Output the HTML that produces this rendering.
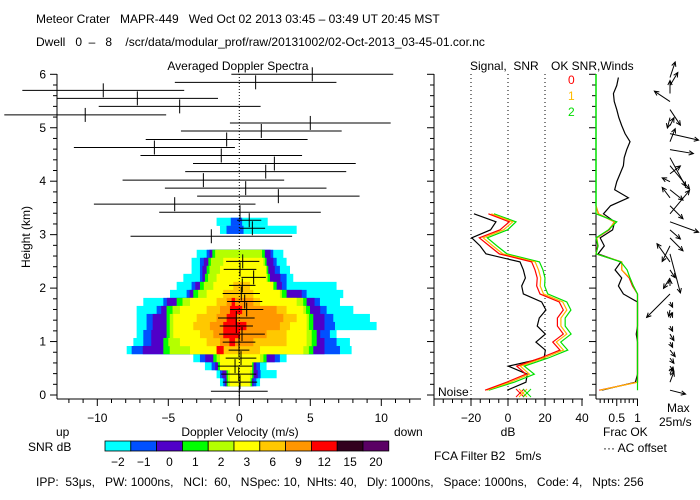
<!DOCTYPE html>
<html><head><meta charset="utf-8"><style>
html,body{margin:0;padding:0;background:#fff}
svg{display:block}
text{font-family:"Liberation Sans",sans-serif;font-size:12px;fill:#000;white-space:pre}
</style></head><body>
<svg id="chart" width="700" height="500" viewBox="0 0 700 500" xmlns="http://www.w3.org/2000/svg" xml:space="preserve">
<rect width="700" height="500" fill="#fff"/>
<text x="36" y="23">Meteor Crater   MAPR-449   Wed Oct 02 2013 03:45 – 03:49 UT 20:45 MST</text>
<text x="36" y="46">Dwell   0  –   8    /scr/data/modular_prof/raw/20131002/02-Oct-2013_03-45-01.cor.nc</text>
<text x="238" y="70" text-anchor="middle">Averaged Doppler Spectra</text>
<text x="470" y="70">Signal,  SNR</text>
<text x="551" y="70">OK SNR,Winds</text>
<g id="spec"></g>
<g id="sig"></g>
<g id="ok"></g>
<g id="wind"></g>
<g id="cbar"></g>
<text x="240" y="436" text-anchor="middle">Doppler Velocity (m/s)</text>
<text x="56" y="436">up</text>
<text x="394" y="436">down</text>
<text x="28" y="451">SNR dB</text>
<text x="508" y="436" text-anchor="middle">dB</text>
<text x="603" y="436">Frac OK</text>
<text x="603" y="452">··· AC offset</text>
<text x="667" y="412">Max</text>
<text x="659" y="426">25m/s</text>
<text x="434" y="460">FCA Filter B2   5m/s</text>
<text x="36" y="486">IPP:  53μs,   PW: 1000ns,   NCI:  60,   NSpec: 10,  NHts: 40,   Dly: 1000ns,   Space: 1000ns,   Code: 4,   Npts: 256</text>
<text x="438" y="396">Noise</text>
<text x="568" y="84" style="fill:#f00">0</text>
<text x="568" y="100" style="fill:#fb0">1</text>
<text x="568" y="116" style="fill:#0d0">2</text>
</svg>
<script>
// ---------- data ----------
const barHeights=[6.00,5.85,5.70,5.55,5.40,5.24,5.09,4.94,4.78,4.63,4.48,4.33,4.18,4.02,3.87,3.72,3.57,3.42,3.27,3.12,2.97,2.50,2.35,2.20,2.05,1.90,1.75,1.60,1.44,1.29,1.14,0.99,0.84,0.69,0.54,0.39,0.24,0.07];
const barVel=[5.14,1.15,-9.58,-7.18,-4.20,-10.85,5.0,1.55,-0.89,-5.98,-1.27,2.47,1.86,-2.53,0.45,2.75,-4.55,0.05,0.70,0.92,-1.97,0.24,0.05,1.01,0.21,0.14,0.38,0.52,-0.21,-0.21,0.19,-0.02,-0.02,0.12,-0.30,-0.04,0.05,0.0];
const barHalfWidth=[5.70,5.69,5.70,5.68,5.70,5.70,5.66,5.66,5.70,5.67,5.69,5.73,5.67,5.69,5.69,5.72,5.69,5.69,0.85,0.90,5.69,1.17,1.15,0.86,0.93,1.31,1.24,1.17,1.29,1.17,1.61,1.15,0.73,1.08,1.22,1.24,1.21,2.0];
const xTicks=[-10,-5,0,5,10];
const yTicks=[0,1,2,3,4,5,6];
const snrLevels=[-2,-1,0,1,2,3,6,9,12,15,20];
const snrColors=['#00ffff','#0050ff','#5000c8','#00ff00','#b4ff00','#ffff00','#ffc800','#ff9600','#ff0000','#32001e','#5a0064'];
const cyanStart=1;
const cyanL=[-1.36,-1.60,-2.42,-3.24,-7.93,-7.46,-7.23,-7.23,-7.23,-7.23,-6.76,-4.88,-4.41,-3.94,-3.36,-3.36,-3.0];
const cyanR=[1.46,2.63,1.92,3.33,7.91,7.79,6.85,9.67,9.20,8.03,7.09,7.32,6.85,3.80,3.57,3.33,3.10];
const blueL=[-1.13,-1.36,-1.95,-2.77,-7.58,-6.76,-6.76,-6.53,-6.53,-5.82,-5.35,-3.71,-3.36,-2.77,-2.77,-2.77,-2.30];
const blueR=[1.2,1.5,1.46,2.86,7.09,6.85,6.38,6.74,6.62,6.15,5.68,4.74,3.33,3.33,2.86,2.63,2.39];
const purpleL=[-1.0,-1.2,-1.7,-2.4,-6.8,-6.2,-6.2,-6.1,-6.1,-5.5,-5.1,-3.5,-3.1,-2.6,-2.6,-2.5,-2.1];
const purpleR=[1.0,1.3,1.2,2.5,6.0,6.0,5.7,6.0,6.0,5.7,5.3,4.4,3.0,2.9,2.5,2.4,2.2];
const greenL=[-0.89,-0.9,-1.5,-1.83,-5.35,-5.35,-5.12,-5.12,-5.12,-5.12,-4.41,-3.24,-2.77,-2.42,-2.30,-2.18,-1.9];
const greenR=[0.9,1.0,1.0,1.92,5.21,5.45,5.45,5.21,5.21,4.98,4.74,3.33,2.63,2.16,2.04,1.92,1.8];
const ygL=[-0.8,-0.8,-1.3,-1.6,-4.9,-5.0,-4.9,-4.9,-4.9,-4.7,-4.0,-2.9,-2.5,-2.2,-2.1,-2.0,-1.7];
const ygR=[0.8,0.9,0.9,1.7,4.9,5.1,5.1,4.9,4.9,4.7,4.5,3.0,2.4,2.0,1.9,1.8,1.6];
const yellowL=[-0.66,-0.66,-1.36,-1.36,-3.47,-4.18,-4.65,-4.65,-4.65,-4.18,-3.47,-2.30,-1.83,-1.60,-1.36,-1.13];
const yellowR=[0.75,0.75,0.9,1.46,4.51,4.74,4.74,4.74,4.74,4.51,4.04,2.86,2.39,1.92,1.92,1.69];
const goldStart=5;
const goldL=[-1.6,-2.30,-2.77,-3.24,-3.0,-2.30,-1.60,-1.13,-0.42];
const goldR=[1.46,3.33,3.33,3.57,4.04,3.33,1.46,0.99,0.75];
const orangeStart=6;
const orangeL=[-1.36,-1.83,-2.07,-1.60,-1.36,-0.89];
const orangeR=[0.99,1.92,2.86,3.10,2.63,0.99];
const redStart=5;
const redL=[-1.6,-0.7,-1.13,-1.13,-0.89,-0.66,-0.54];
const redR=[-1.1,-0.3,0.05,0.5,-0.19,0.2,-0.3];
const upperStart=20;
const upperCyanL=[-1.36,-1.6];
const upperCyanR=[4.04,2.0];
const upperBlueL=[-0.9,-0.6];
const upperBlueR=[0.3,0.2];
const sigBlack=[-0.4,9.7,10.4,0.2,19.5,20.2,15.1,20.2,15.8,16.9,20.5,18.2,8.3,7.4,9.4,8.3,6.5,-11.9,-15.1,-19.6,-9.4,-6.5,-18.4];
const sigRed=[-12.4,-0.7,9.7,4.7,17.3,28.1,24.2,29.9,26.7,26.7,29.9,27.7,17.3,15.5,15.8,14.6,12.8,-4.7,-10.1,-15.5,-4.3,0.7,-10.6];
const sigOrange=[-11.5,1.2,11.6,6.6,19.2,30.0,26.1,31.8,28.6,28.6,31.8,29.6,19.2,17.4,17.7,16.5,14.7,-2.8,-8.2,-13.4,-2.4,2.6,-9.0];
const sigGreen=[-10.4,3.4,14.2,8.8,21.6,32.3,28.5,34.1,30.9,30.9,34.0,31.8,21.5,19.8,20.0,18.9,17.0,-0.5,-6.0,-11.2,-0.2,4.3,-7.6];
const dbTicks=[-20,0,20,40];
const okBlack=[0.14,0.95,1,1,1,1,1,0.97,1,1,1,1,0.66,0.54,0.62,0.46,0.6,0.05,0.2,0.1,0.4,0.45,0.18,0.35,0.78,0.45,0.5,0.58,0.66,0.68,0.74,0.82,0.7,0.62,0.55,0.5,0.44,0.42,0.5,0.54];
const okGreen=[1,1,1,1,1,1,1,1,1,1,1,1,1,0.9,0.82,0.75,0.6,0,0.05,0,0.3,0.5,0,0];
const okOrange=[0.1,1,1,1,1,1,1,1,1,1,1,1,1,0.9,0.82,0.62,0.62,0,0.05,0.02,0.3,0.45,0.05,0];
const okRed=[0.08,1,1,1,1,1,1,1,1,1,1,1,1,0.88,0.8,0.62,0.62,0,0.04,0.02,0.32,0.44,0.06,0];
const fracTicks=[0.5,1];
const windU=[12,3,2,3,3,4,2,3,2,2,-1,2,-18,0,-5,4,-10,8,-6,10,8,22,15,10,-6,10,-6,8,15,12,18,4,22,3,-2,8,-12,0,6,4];
const windV=[-3,8,5,-4,-4,-5,-4,-5,-4,4,-5,-4,-18,5,-8,-6,14,-30,-12,-10,-7,-8,18,-10,8,-8,3,6,-18,-22,-3,10,-5,6,-8,-12,8,10,10,12];

// ---------- scales ----------
const NS='http://www.w3.org/2000/svg';
const vx=v=>239.3+v*14.2;
const hy=h=>395-h*53.45;
const gateH=i=>0.09+0.15*i;
const dbx=d=>508+d*1.85;
const fx=f=>596+f*41.5;
function mk(tag,attrs,parent){const e=document.createElementNS(NS,tag);for(const k in attrs)e.setAttribute(k,attrs[k]);parent.appendChild(e);return e;}
const spec=document.getElementById('spec'),sig=document.getElementById('sig'),ok=document.getElementById('ok'),wind=document.getElementById('wind'),cbar=document.getElementById('cbar');

function bands(start,L,R,color,name){
  for(let k=0;k<L.length;k++){
    const h=gateH(start+k);const y=hy(h)-4.1;
    const r=mk('rect',{x:vx(L[k]),y:y,width:Math.max(0,vx(R[k])-vx(L[k])),height:8.2,fill:color},spec);
    
    
  }
}
bands(cyanStart,cyanL,cyanR,snrColors[0],'snr-m2');
bands(cyanStart,blueL,blueR,snrColors[1],'snr-m1');
bands(cyanStart,purpleL,purpleR,snrColors[2],'snr-0');
bands(cyanStart,greenL,greenR,snrColors[3],'snr-1');
bands(cyanStart,ygL,ygR,snrColors[4],'snr-2');
bands(cyanStart,yellowL,yellowR,snrColors[5],'snr-3');
bands(goldStart,goldL,goldR,snrColors[6],'snr-6');
bands(orangeStart,orangeL,orangeR,snrColors[7],'snr-9');
bands(redStart,redL,redR,snrColors[8],'snr-12');
bands(upperStart,upperCyanL,upperCyanR,snrColors[0],'snr-upper-m2');
bands(upperStart,upperBlueL,upperBlueR,snrColors[1],'snr-upper-m1');

const zl=mk('line',{x1:vx(0),x2:vx(0),y1:74,y2:399,stroke:'#000','stroke-dasharray':'1,2'},spec);



for(let i=0;i<barHeights.length;i++){
  const y=hy(barHeights[i]);const x0=Math.max(0,vx(barVel[i]-barHalfWidth[i])),x1=vx(barVel[i]+barHalfWidth[i]);
  const g=mk('g',{},spec);
  
  
  mk('line',{x1:x0,x2:x1,y1:y,y2:y,stroke:'#000','stroke-width':1},g);
  mk('line',{x1:vx(barVel[i]),x2:vx(barVel[i]),y1:y-7,y2:y+7,stroke:'#000','stroke-width':1},g);
}

mk('line',{x1:57,x2:57,y1:74,y2:399,stroke:'#000'},spec);
mk('line',{x1:57,x2:421,y1:399,y2:399,stroke:'#000'},spec);
for(let v=-12;v<=12;v++){const x=vx(v);mk('line',{x1:x,x2:x,y1:399,y2:v%5===0?406:403,stroke:'#000'},spec);}
xTicks.forEach(v=>{const t=mk('text',{x:vx(v),y:422,'text-anchor':'middle'},spec);t.textContent=v===0?'0':(v<0?'−'+(-v):v);
  
  });
for(let h=0;h<=6.001;h+=0.2){const y=hy(h);const maj=Math.abs(h-Math.round(h))<0.01;mk('line',{x1:maj?50:53,x2:57,y1:y,y2:y,stroke:'#000'},spec);}
yTicks.forEach(h=>{const t=mk('text',{x:46,y:hy(h)+4,'text-anchor':'end'},spec);t.textContent=h;
  
  });
const yt=mk('text',{x:0,y:0,transform:'translate(30,237) rotate(-90)','text-anchor':'middle'},spec);yt.textContent='Height (km)';



mk('line',{x1:434,x2:434,y1:74,y2:399,stroke:'#000'},sig);
mk('line',{x1:434,x2:583,y1:399,y2:399,stroke:'#000'},sig);
for(let h=0;h<=6.001;h+=0.2){const y=hy(h);const maj=Math.abs(h-Math.round(h))<0.01;mk('line',{x1:maj?427:430,x2:434,y1:y,y2:y,stroke:'#000'},sig);}
for(let d=-40;d<=40;d+=5){const x=dbx(d);mk('line',{x1:x,x2:x,y1:399,y2:d%20===0?406:403,stroke:'#000'},sig);}
[-20,0,20].forEach(d=>{const l=mk('line',{x1:dbx(d),x2:dbx(d),y1:74,y2:399,stroke:'#000','stroke-dasharray':'1,3'},sig);
  
  });
dbTicks.forEach(d=>{const t=mk('text',{x:dbx(d),y:422,'text-anchor':'middle'},sig);t.textContent=d<0?'−'+(-d):d;
  
  });
function sigLine(arr,color,name){
  const pts=arr.map((d,i)=>dbx(d)+','+hy(gateH(i))).join(' ');
  const p=mk('polyline',{points:pts,fill:'none',stroke:color,'stroke-width':1.2},sig);
  
  
}
sigLine(sigBlack,'#000','signal-line');
sigLine(sigGreen,'#00e000','snr-line-2');
sigLine(sigOrange,'#ffb400','snr-line-1');
sigLine(sigRed,'#ff0000','snr-line-0');
[['#ff0000',520],['#ffb400',523],['#00e000',527]].forEach(c=>{const g=mk('g',{},sig);
  
  
  mk('line',{x1:c[1]-4,x2:c[1]+4,y1:389,y2:397,stroke:c[0]},g);mk('line',{x1:c[1]+4,x2:c[1]-4,y1:389,y2:397,stroke:c[0]},g);});

mk('line',{x1:596,x2:596,y1:74,y2:399,stroke:'#000'},ok);
mk('line',{x1:596,x2:638,y1:399,y2:399,stroke:'#000'},ok);
for(let h=0;h<=6.001;h+=0.2){const y=hy(h);const maj=Math.abs(h-Math.round(h))<0.01;mk('line',{x1:maj?589:592,x2:596,y1:y,y2:y,stroke:'#000'},ok);}
for(let f=0.1;f<=1.001;f+=0.1){const x=fx(f);mk('line',{x1:x,x2:x,y1:399,y2:Math.abs(f*2-Math.round(f*2))<0.01?406:403,stroke:'#000'},ok);}
fracTicks.forEach(f=>{const t=mk('text',{x:fx(f),y:422,'text-anchor':'middle'},ok);t.textContent=f;
  
  });
function okLine(arr,color,name){
  const pts=arr.map((f,i)=>fx(f)+','+hy(gateH(i))).join(' ');
  const p=mk('polyline',{points:pts,fill:'none',stroke:color,'stroke-width':1.2},ok);
  
  
}
okLine(okBlack,'#000','ok-ac-line');
okLine(okRed,'#ff0000','ok-frac-0');
okLine(okOrange,'#ffb400','ok-frac-1');
okLine(okGreen,'#00e000','ok-frac-2');
const gl=mk('line',{x1:596,x2:596,y1:74,y2:hy(gateH(23)),stroke:'#00e000','stroke-width':1.5},ok);



const wscale=1.3;
for(let i=0;i<windU.length;i++){
  const x0=670,y0=hy(gateH(i));const x1=x0+windU[i]*wscale,y1=y0-windV[i]*wscale;
  const g=mk('g',{},wind);
  
  
  mk('line',{x1:x0,y1:y0,x2:x1,y2:y1,stroke:'#000'},g);
  const a=Math.atan2(y1-y0,x1-x0);
  mk('polyline',{points:`${x1-5*Math.cos(a-0.45)},${y1-5*Math.sin(a-0.45)} ${x1},${y1} ${x1-5*Math.cos(a+0.45)},${y1-5*Math.sin(a+0.45)}`,fill:'none',stroke:'#000'},g);
}

const cbx0=105,cbw=25.8;
snrLevels.forEach((lv,i)=>{
  const r=mk('rect',{x:cbx0+i*cbw,y:441,width:cbw,height:10,fill:snrColors[i],stroke:'#000','stroke-width':0.8},cbar);
  
  
  const t=mk('text',{x:cbx0+i*cbw+cbw/2,y:466,'text-anchor':'middle'},cbar);t.textContent=lv<0?'−'+(-lv):lv;
  
  
});
</script>
</body></html>
